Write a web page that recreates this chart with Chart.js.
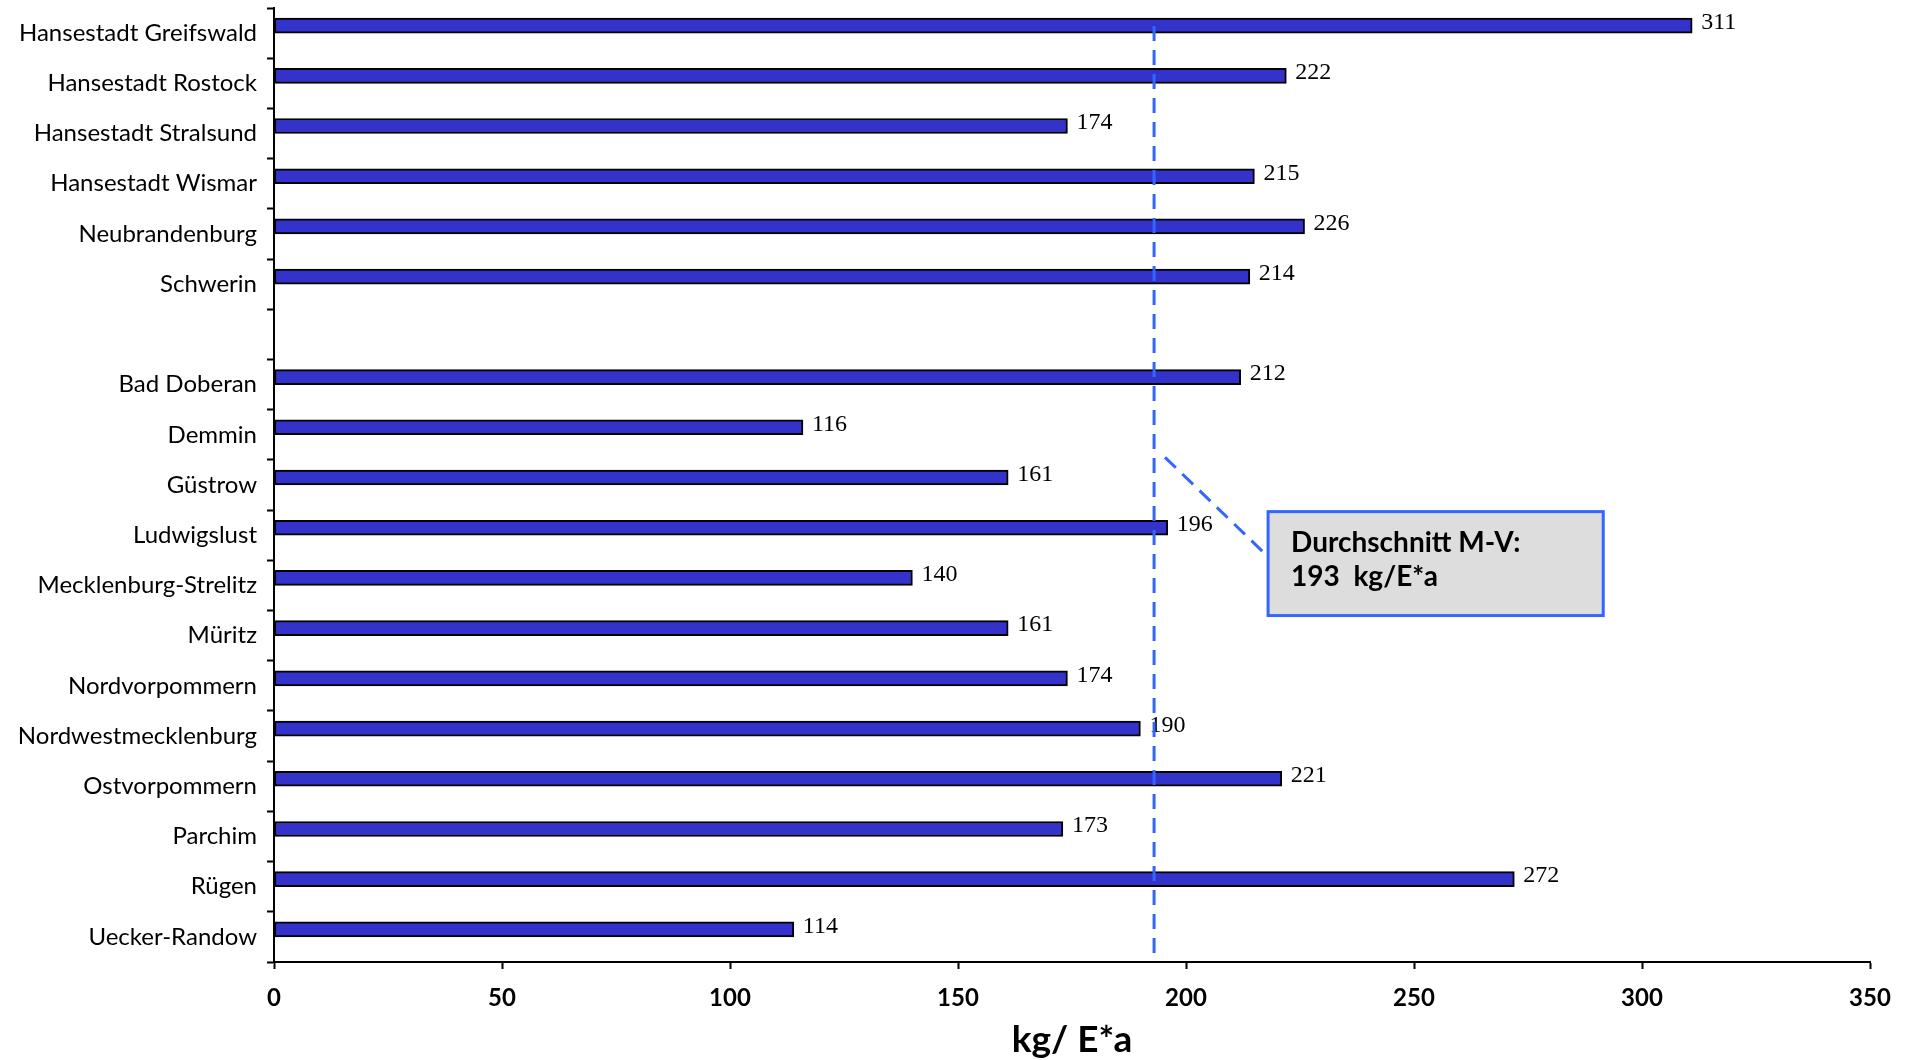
<!DOCTYPE html>
<html>
<head>
<meta charset="utf-8">
<script src="https://cdn.jsdelivr.net/npm/chart.js@4.4.1/dist/chart.umd.min.js"></script>
<style>
  html, body { margin: 0; padding: 0; background: #ffffff; }
  #wrap { width: 1912px; height: 1060px; }
</style>
</head>
<body>
<div id="wrap"><canvas id="chart" width="1912" height="1060"></canvas></div>
<script>
// Kreisfreie Städte und Landkreise (leere Zeile trennt die beiden Gruppen)
const regions = [
  'Hansestadt Greifswald', 'Hansestadt Rostock', 'Hansestadt Stralsund',
  'Hansestadt Wismar', 'Neubrandenburg', 'Schwerin', '',
  'Bad Doberan', 'Demmin', 'Güstrow', 'Ludwigslust', 'Mecklenburg-Strelitz',
  'Müritz', 'Nordvorpommern', 'Nordwestmecklenburg', 'Ostvorpommern',
  'Parchim', 'Rügen', 'Uecker-Randow'
];
// Aufkommen in kg je Einwohner und Jahr
const amounts = [
  311, 222, 174, 215, 226, 214, null,
  212, 116, 161, 196, 140, 161, 174, 190, 221, 173, 272, 114
];
const axisMin = 0;
const axisMax = 350;
const axisStep = 50;
const axisTitle = 'kg/ E*a';

// Landesdurchschnitt
const average = 193;
const averageText = ['Durchschnitt M-V:', '193  kg/E*a'];

const BAR_FILL = '#3333cc';
const AVG_BLUE = '#3366ff';
const SANS = 'Lato, "Open Sans", sans-serif';
const SERIF = '"Liberation Serif", "Times New Roman", serif';

// Beschriftung der Balkenenden
const valueLabels = {
  id: 'valueLabels',
  afterDatasetsDraw(chart) {
    const ctx = chart.ctx;
    const meta = chart.getDatasetMeta(0);
    ctx.save();
    ctx.font = '24px ' + SERIF;
    ctx.fillStyle = '#000';
    ctx.textAlign = 'left';
    ctx.textBaseline = 'middle';
    meta.data.forEach((bar, i) => {
      const v = amounts[i];
      if (v === null || v === undefined) return;
      ctx.fillText(String(v), bar.x + 9, bar.y - 3);
    });
    ctx.restore();
  }
};

// Durchschnittslinie mit Hinweiskasten
const averageMarker = {
  id: 'averageMarker',
  afterDatasetsDraw(chart) {
    const ctx = chart.ctx;
    const xs = chart.scales.x;
    const ys = chart.scales.y;
    const area = chart.chartArea;
    const ax = xs.getPixelForValue(average);

    ctx.save();
    ctx.strokeStyle = AVG_BLUE;
    ctx.lineWidth = 3;
    ctx.setLineDash([15, 9]);
    ctx.beginPath();
    ctx.moveTo(ax, area.top + 18);
    ctx.lineTo(ax, area.bottom);
    ctx.stroke();

    // Kasten
    const bx0 = xs.getPixelForValue(218);
    const bx1 = xs.getPixelForValue(291.5);
    const by0 = ys.getPixelForValue(9.53);
    const by1 = ys.getPixelForValue(11.6);

    // Verbindungslinie
    ctx.beginPath();
    ctx.moveTo(xs.getPixelForValue(195.4), ys.getPixelForValue(8.45));
    ctx.lineTo(bx0 - 2, ys.getPixelForValue(10.39));
    ctx.stroke();

    ctx.setLineDash([]);
    ctx.fillStyle = '#dddddd';
    ctx.fillRect(bx0, by0, bx1 - bx0, by1 - by0);
    ctx.lineWidth = 3;
    ctx.strokeStyle = AVG_BLUE;
    ctx.strokeRect(bx0, by0, bx1 - bx0, by1 - by0);

    ctx.fillStyle = '#000';
    ctx.font = 'bold 28px ' + SANS;
    ctx.textAlign = 'left';
    ctx.textBaseline = 'middle';
    ctx.fillText(averageText[0], bx0 + 23, by0 + 31);
    ctx.fillText(averageText[1], bx0 + 23, by0 + 65);
    ctx.restore();
  }
};

new Chart(document.getElementById('chart'), {
  type: 'bar',
  data: {
    labels: regions,
    datasets: [
      {
        data: amounts,
        backgroundColor: BAR_FILL,
        borderColor: '#000000',
        borderWidth: 2,
        borderSkipped: false,
        barThickness: 15
      },
      {
        // zweite (leere) Reihe der Gruppierung
        data: [],
        barThickness: 15
      }
    ]
  },
  options: {
    indexAxis: 'y',
    responsive: false,
    animation: false,
    devicePixelRatio: 1,
    layout: { padding: { top: 8, right: 42, bottom: 0, left: 0 } },
    plugins: {
      legend: { display: false },
      tooltip: { enabled: false }
    },
    scales: {
      x: {
        min: axisMin,
        max: axisMax,
        ticks: {
          stepSize: axisStep,
          color: '#000',
          font: { family: SANS, size: 24, weight: 'bold' },
          padding: 15,
          maxRotation: 0
        },
        grid: {
          drawOnChartArea: false,
          drawTicks: true,
          tickLength: 7,
          tickColor: '#000',
          tickWidth: 2
        },
        border: { display: true, color: '#000', width: 2 },
        title: {
          display: true,
          text: axisTitle,
          color: '#000',
          font: { family: SANS, size: 37, weight: 'bold', lineHeight: 1.08 },
          padding: { top: 0, bottom: 0 }
        },
        afterFit(scale) { scale.height = 98; }
      },
      y: {
        ticks: {
          color: '#000',
          font: { family: SANS, size: 24 },
          padding: 10,
          autoSkip: false
        },
        grid: {
          offset: true,
          drawOnChartArea: false,
          drawTicks: true,
          tickLength: 7,
          tickColor: '#000',
          tickWidth: 2
        },
        border: { display: true, color: '#000', width: 2 },
        afterFit(scale) {
          scale.width = 274;
          scale.paddingTop = 0;
          scale.paddingBottom = 0;
        }
      }
    }
  },
  plugins: [valueLabels, averageMarker]
});
</script>
</body>
</html>
